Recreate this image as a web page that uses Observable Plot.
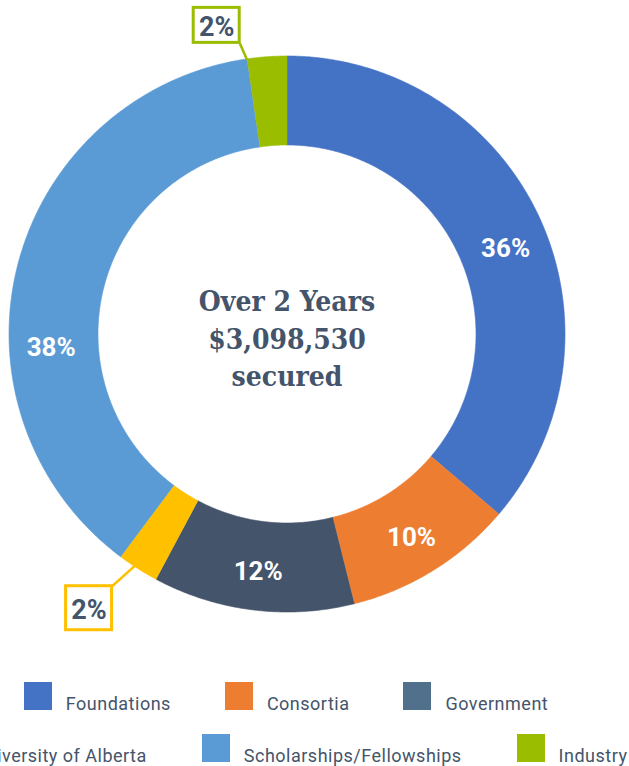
<!DOCTYPE html>
<html>
<head>
<meta charset="utf-8">
<script src="https://cdn.jsdelivr.net/npm/d3@7"></script>
<script src="https://cdn.jsdelivr.net/npm/@observablehq/plot@0.6"></script>
<style>
  html, body { margin: 0; padding: 0; background: #ffffff; overflow: hidden; }
  #wrap { position: relative; width: 629px; height: 766px; overflow: hidden; font-family: Roboto, "Noto Sans", sans-serif; }
  #chart svg { display: block; }
  .legend { position: absolute; left: 0; width: 572px; display: flex; flex-direction: column; }
  .row { display: flex; justify-content: center; flex-wrap: nowrap; gap: 54px; height: 28px; margin-bottom: 24px; white-space: nowrap; }
  .row.r2 { gap: 55px; transform: translateX(-6px); }
  .item { display: flex; align-items: flex-end; flex: 0 0 auto; }
  .sw { width: 28px; height: 28px; margin-right: 14px; flex: 0 0 auto; }
  .lab { font-size: 18px; line-height: 18px; letter-spacing: 0.5px; color: #44546A; position: relative; top: 3px; }
</style>
</head>
<body>
<div id="wrap">
  <div id="chart"></div>
  <div class="legend" id="legend" style="top:682px"></div>
</div>
<script>
// ---- data ----
const categories = ["Foundations", "Consortia", "Government", "University of Alberta", "Scholarships/Fellowships", "Industry"];
const shares = [36.2, 9.9, 11.7, 2.4, 37.5, 2.3]; // percent of total
const centerLines = ["Over 2 Years", "$3,098,530", "secured"];
const legendRows = [
  ["Foundations", "Consortia", "Government"],
  ["University of Alberta", "Scholarships/Fellowships", "Industry"]
];

// ---- styles ----
const segColors = ["#4472C4", "#ED7D31", "#44546A", "#FFC000", "#5B9BD5", "#9BBD00"];
const legendColors = {"Foundations": "#4472C4", "Consortia": "#ED7D31", "Government": "#50708C",
  "University of Alberta": "#FFC000", "Scholarships/Fellowships": "#5B9BD5", "Industry": "#9BBD00"};
const W = 629, H = 668;
const cx = 286.5, cy = 333.5, R = 278, r0 = 189, rLab = 236;
const textColor = "#44546A";

// ---- geometry from data ----
const total = d3.sum(shares);
let acc = 0;
const segs = categories.map((name, i) => {
  const a0 = acc / total * 2 * Math.PI;
  acc += shares[i];
  const a1 = acc / total * 2 * Math.PI;
  return {name, value: shares[i], a0, a1};
});
const pt = (a, rho) => ({x: cx + rho * Math.sin(a), y: cy - rho * Math.cos(a)});

const ring = [];
for (const s of segs) {
  const n = Math.max(4, Math.ceil((s.a1 - s.a0) / (Math.PI / 360)));
  for (let k = 0; k <= n; k++) ring.push({name: s.name, ...pt(s.a0 + (s.a1 - s.a0) * k / n, R)});
  for (let k = n; k >= 0; k--) ring.push({name: s.name, ...pt(s.a0 + (s.a1 - s.a0) * k / n, r0)});
}

// in-ring labels (large slices); some labels sit off the slice middle like the reference
const labelAngleOverride = {"Foundations": 0.1886 * 2 * Math.PI, "Scholarships/Fellowships": 0.743 * 2 * Math.PI};
const inLabels = segs.filter(s => s.value >= 5).map(s => {
  const a = labelAngleOverride[s.name] ?? (s.a0 + s.a1) / 2;
  return {name: s.name, text: Math.round(s.value) + "%", ...pt(a, rLab)};
});

// callouts for small slices
const calloutCfg = {
  "Industry": {f: 0.0, dx: -30.4, dy: -34.5, w: 46, h: 35},
  "University of Alberta": {f: 0.6, dx: -46, dy: 42.6, w: 46, h: 44}
};
const callouts = segs.filter(s => s.value < 5).map(s => {
  const c = calloutCfg[s.name];
  const an = pt(s.a0 + (s.a1 - s.a0) * c.f, R - 1);
  const bx = an.x + c.dx, by = an.y + c.dy;
  const x1 = bx - c.w / 2, x2 = bx + c.w / 2, y1 = by - c.h / 2, y2 = by + c.h / 2;
  const cornerX = c.dx < 0 ? x2 : x1;
  const cornerY = c.dy < 0 ? y2 : y1;
  return {name: s.name, text: Math.round(s.value) + "%", ax: an.x, ay: an.y, bx, by, x1, x2, y1, y2, cornerX, cornerY};
});

const plot = Plot.plot({
  width: W, height: H,
  margin: 0,
  style: {fontFamily: "Roboto, sans-serif", background: "#ffffff"},
  x: {domain: [0, W], range: [0, W], axis: null},
  y: {domain: [0, H], range: [0, H], axis: null},
  color: {domain: categories, range: segColors},
  marks: [
    Plot.line(ring, {x: "x", y: "y", z: "name", fill: "name", stroke: "name", strokeWidth: 0.6, curve: "linear"}),
    Plot.text(inLabels, {x: "x", y: "y", text: "text", fill: "#ffffff", fontSize: 26, fontWeight: 700, dy: 3}),
    Plot.link(callouts, {x1: "ax", y1: "ay", x2: "cornerX", y2: "cornerY", stroke: "name", strokeWidth: 2.5}),
    Plot.rect(callouts, {x1: "x1", x2: "x2", y1: "y1", y2: "y2", fill: "#ffffff", stroke: "name", strokeWidth: 3}),
    Plot.text(callouts, {x: "bx", y: "by", text: "text", fill: textColor, fontSize: 27, fontWeight: 700, dy: 2}),
    Plot.text(centerLines, {x: () => cx, y: (d, i) => cy - 31.5 + i * 37.5, text: d => d, fill: textColor,
      fontSize: 28, fontWeight: 700, fontFamily: "'DejaVu Serif Condensed', 'DejaVu Serif', serif"})
  ]
});
document.getElementById("chart").appendChild(plot);

// ---- legend ----
const legend = document.getElementById("legend");
legendRows.forEach((row, ri) => {
  const rd = document.createElement("div");
  rd.className = ri === 1 ? "row r2" : "row";
  for (const name of row) {
    const it = document.createElement("div");
    it.className = "item";
    const sw = document.createElement("div");
    sw.className = "sw";
    sw.style.background = legendColors[name];
    const lb = document.createElement("span");
    lb.className = "lab";
    lb.textContent = name;
    it.appendChild(sw); it.appendChild(lb);
    rd.appendChild(it);
  }
  legend.appendChild(rd);
});
</script>
</body>
</html>
